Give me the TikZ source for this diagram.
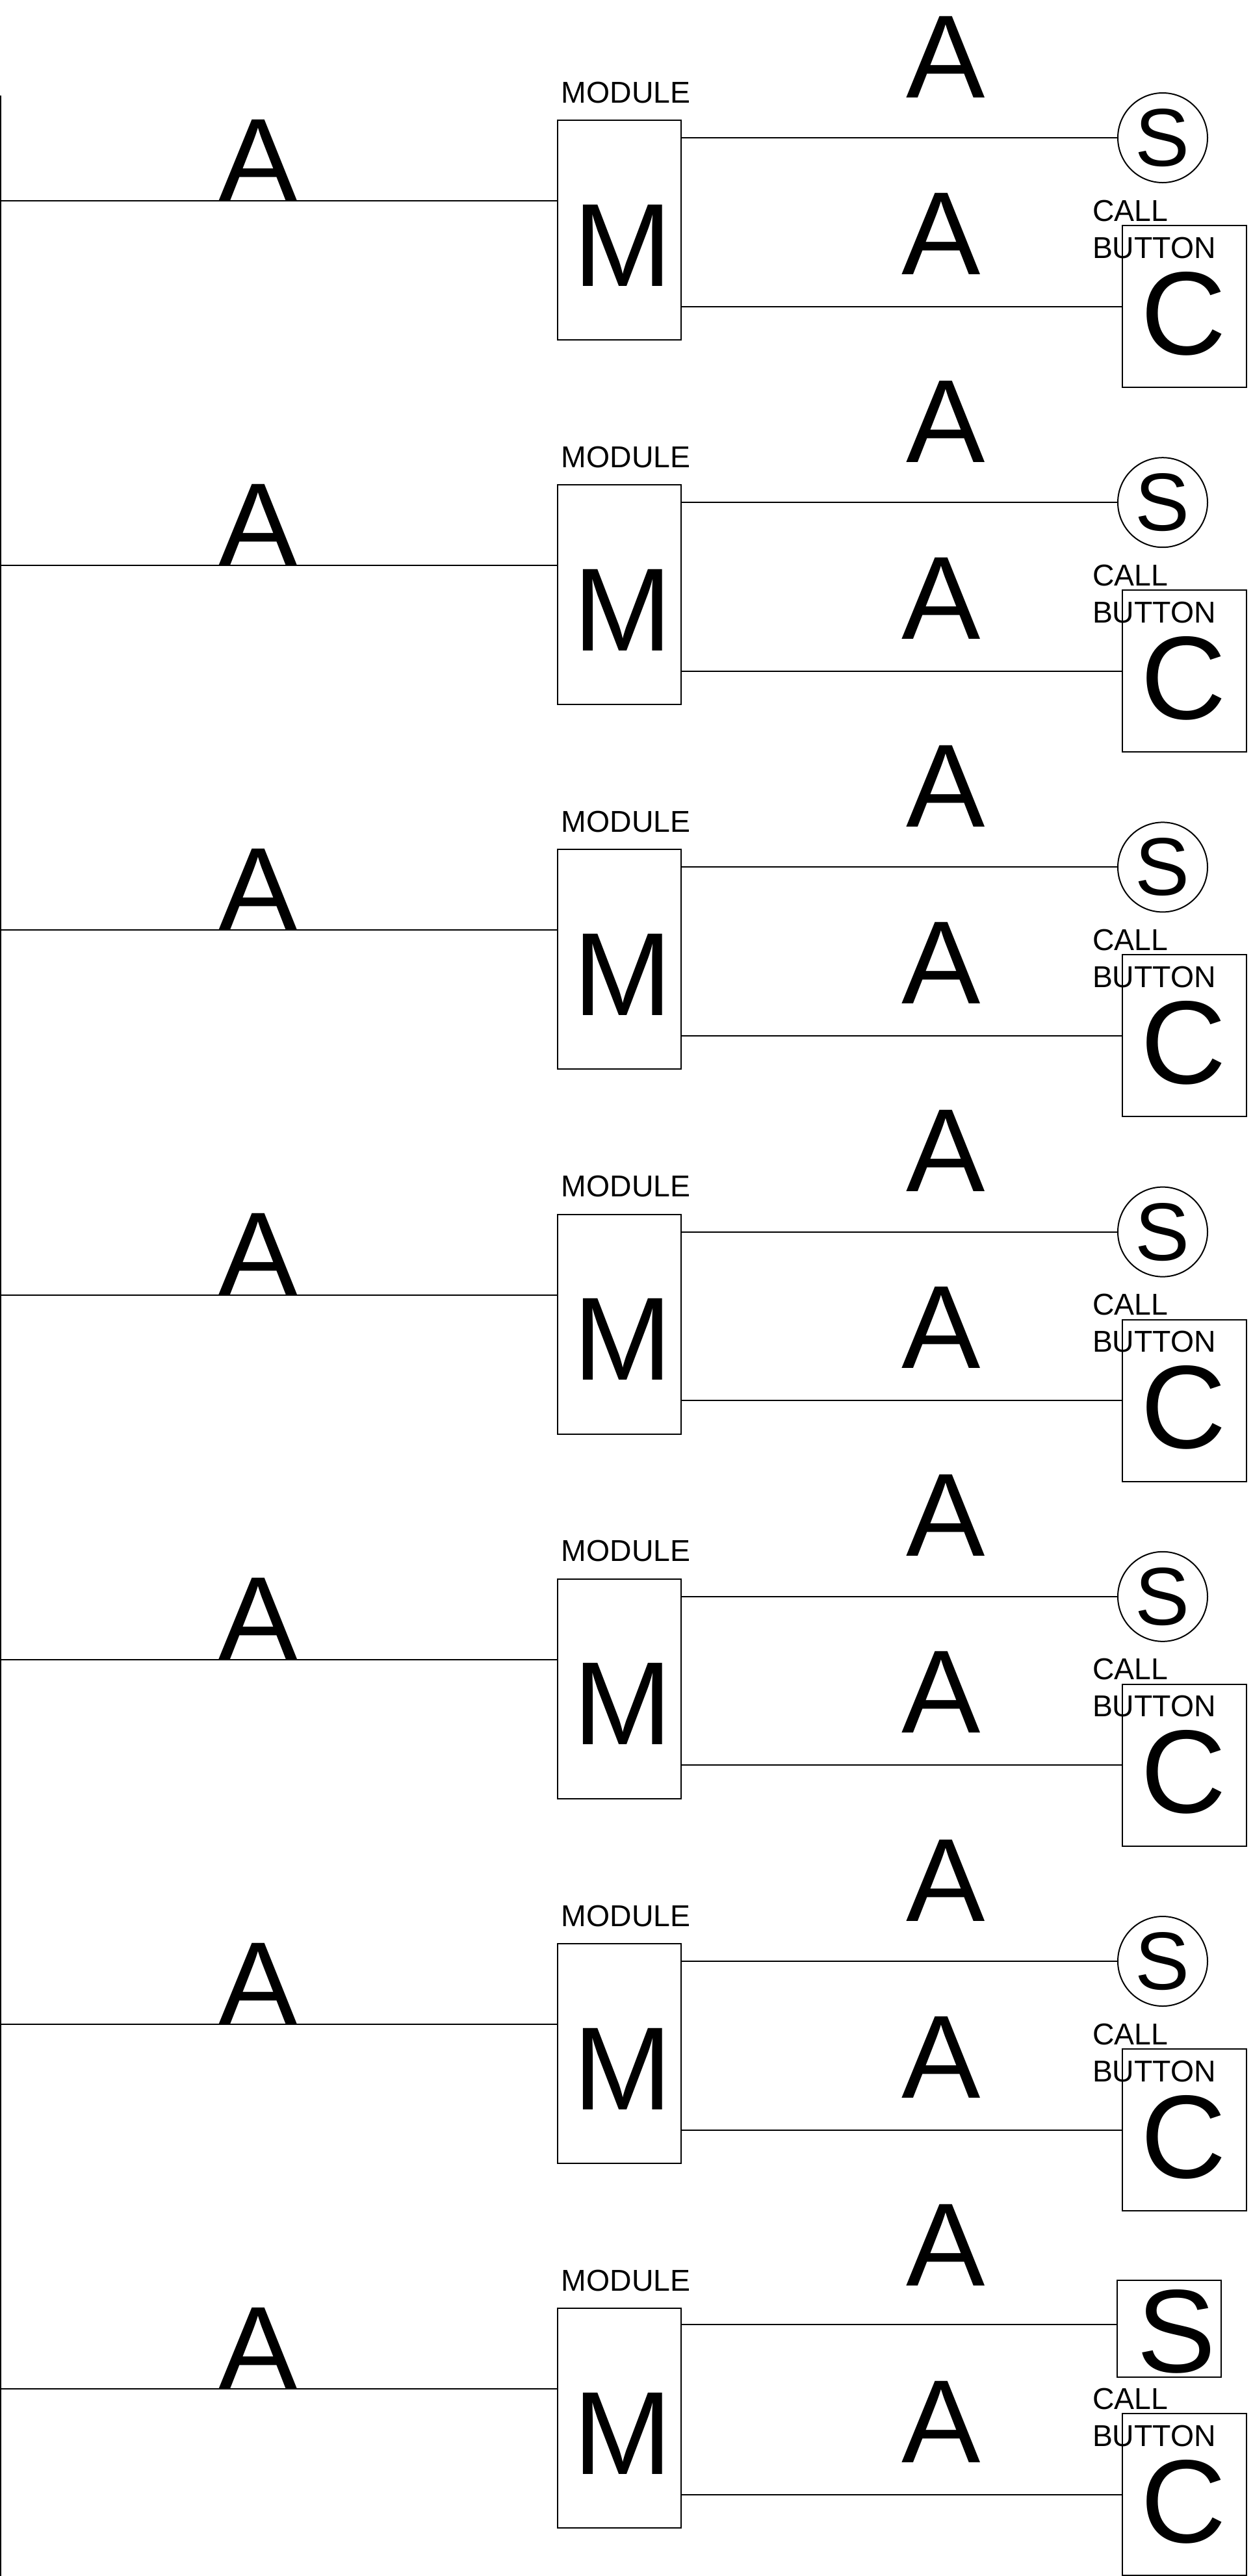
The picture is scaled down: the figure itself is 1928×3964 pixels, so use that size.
\documentclass[tikz,border=0pt]{standalone}
\usepackage{fontspec}
\setmainfont{Liberation Sans}
\begin{document}
\begin{tikzpicture}[x=0.5pt,y=-0.5pt, line width=1pt,
  big/.style={font=\fontsize{91}{91}\selectfont, inner sep=0pt, anchor=base},
  small/.style={font=\fontsize{23.2}{28.5}\selectfont, inner sep=0pt, anchor=base west, align=left},
  smallc/.style={font=\fontsize{23.2}{28.5}\selectfont, inner sep=0pt, anchor=base},
  modbox/.style={draw, rectangle, minimum width=95pt, minimum height=169pt, inner sep=0pt},
  sensorc/.style={draw, circle, minimum size=69pt, inner sep=0pt, font=\fontsize{63}{63}\selectfont},
  sensorr/.style={draw, rectangle, minimum width=80pt, minimum height=74.5pt, inner sep=0pt},
  callbox/.style={draw, rectangle, minimum width=95.5pt, minimum height=124.5pt, inner sep=0pt},
  wire/.style={draw, line width=1pt}]
\clip (0,0) rectangle (1928,3964);
\coordinate (bustop) at (1,147);
\coordinate (busbot) at (1,3964);
\draw[wire] (bustop) -- (busbot);
\foreach \i in {0,...,6}{
  \pgfmathsetmacro\d{\i*561.2}
  % module
  \node[modbox] (m\i) at (953,354+\d) {};
  \node[big] (mt\i) at (958,440+\d) {M};
  \node[smallc] (ml\i) at (963,158+\d) {MODULE};
  % left bus tap
  \coordinate (t\i) at (1,309+\d);
  \draw[wire] (t\i) -- (t\i -| m\i.west);
  \node[big] (al\i) at (397,309+\d) {A};
  % sensor
  \ifnum\i=6
    \node[sensorr] (s\i) at (1799,216.3+\d) {};
    \node[big] (st\i) at (1810,283+\d) {S};
    \coordinate (sw\i) at (1719,210+\d);
    \draw[wire] (sw\i) -- (sw\i -| m\i.east);
  \else
    \node[sensorc] (s\i) at (1789,212+\d) {S};
    \draw[wire] (s\i.west) -- (s\i.west -| m\i.east);
  \fi
  \node[big] (at\i) at (1455,150+\d) {A};
  \node[big] (am\i) at (1448,422+\d) {A};
  % call button
  \node[callbox] (c\i) at (1822.5,471.5+\d) {};
  \node[big] (ct\i) at (1821,545+\d) {C};
  \node[small] (cl\i) at (1680,397+\d) {CALL\\BUTTON};
  \draw[wire] (c\i.west) -- (c\i.west -| m\i.east);
}
\end{tikzpicture}
\end{document}
